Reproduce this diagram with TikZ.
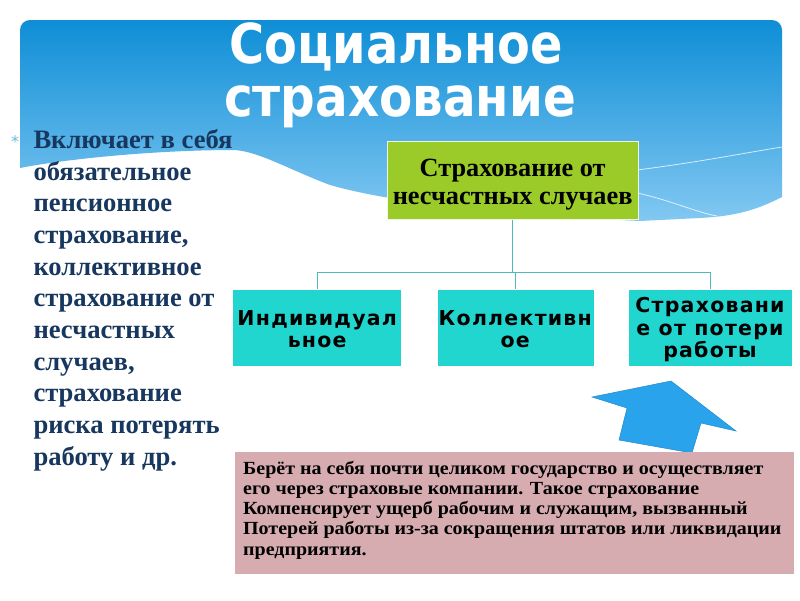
\documentclass[tikz,border=0pt]{standalone}
\usepackage{fontspec}
\usepackage{graphicx}
\setmainfont{Liberation Serif}
\newfontfamily\djs{DejaVu Sans}
\newfontfamily\djsls[LetterSpace=6]{DejaVu Sans}
\definecolor{hdrtop}{RGB}{14,142,214}
\definecolor{hdrbot}{RGB}{130,200,242}
\definecolor{navy}{RGB}{23,55,94}
\definecolor{lime}{RGB}{155,203,40}
\definecolor{turq}{RGB}{34,214,208}
\definecolor{conn}{RGB}{80,185,185}
\definecolor{arrowblue}{RGB}{41,163,236}
\definecolor{pinkbox}{RGB}{214,172,176}
\definecolor{bulletblue}{RGB}{110,185,225}
\newcommand{\ctr}[1]{\hbox to 0pt{\hss#1\hss}}
\tikzset{
  titletext/.style={inner sep=0pt, text=white, font=\djs\bfseries\fontsize{55}{60}\selectfont},
  gbox/.style={fill=lime, draw=white!85!lime, line width=0.8pt, inner sep=0pt},
  tbox/.style={fill=turq, draw=white, line width=0.6pt, inner sep=0pt, minimum height=77.7pt},
  tboxtext/.style={inner sep=0pt, text=black, font=\djsls\bfseries\fontsize{20.5}{22.4}\selectfont},
  conn/.style={draw=conn, line width=1pt},
  pbox/.style={fill=pinkbox, inner sep=0pt},
}
\begin{document}
\begin{tikzpicture}[x=1pt,y=-1pt]
\useasboundingbox (0,0) rectangle (800,600);
\fill[white] (0,0) rectangle (800,600);
% header
\shade[top color=hdrtop, bottom color=hdrbot]
  (20,168) [rounded corners=10pt]-- (20,20) -- (782,20) [sharp corners]-- (782,197)
  .. controls (760,208) and (740,216) .. (700,218) -- (640,221)
  .. controls (520,215) and (400,205) .. (330,185)
  .. controls (290,170) and (260,152) .. (235,150)
  .. controls (150,150) and (60,160) .. (20,168) -- cycle;
\draw[white, opacity=.75, line width=.8pt] (637,170) .. controls (700,162) and (750,152) .. (782,147);
\draw[white, opacity=.75, line width=.8pt] (637,193) .. controls (670,200) and (695,212) .. (717,216);
% title
\node[titletext, anchor=base] (t1) at (396,63.3) {\scalebox{0.87}[1]{Социальное}};
\node[titletext, anchor=base] (t2) at (400,116.7) {\scalebox{0.88}[1]{страхование}};
% bullet and left text
\node[inner sep=0pt, anchor=base, text=bulletblue, font=\djs\fontsize{16}{16}\selectfont] (bul) at (15,147) {*};
\node[inner sep=0pt, anchor=base west, text=navy, font=\bfseries\fontsize{26.6}{31.7}\selectfont] (lt) at (33.3,148.3)
 {\vtop{\hbox{Включает в себя}\hbox{обязательное}\hbox{пенсионное}\hbox{страхование,}\hbox{коллективное}\hbox{страхование от}\hbox{несчастных}\hbox{случаев,}\hbox{страхование}\hbox{риска потерять}\hbox{работу и др.}}};
% green box
\node[gbox, minimum width=250.7pt, minimum height=77.6pt] (ins) at (512.65,180.5) {};
\node[inner sep=0pt, anchor=base, font=\bfseries\fontsize{26.3}{27.3}\selectfont] (inst) at (512.65,176.7)
 {\vtop{\ctr{Страхование от}\ctr{несчастных случаев}}};
% turquoise boxes
\node[tbox, minimum width=169pt] (b1) at (317.2,327.85) {};
\node[tbox, minimum width=156.7pt] (b2) at (515.65,327.85) {};
\node[tbox, minimum width=164.4pt] (b3) at (710.5,327.85) {};
\node[tboxtext, anchor=base] (b1t) at (317.2,325) {\vtop{\ctr{Индивидуал}\ctr{ьное}}};
\node[tboxtext, anchor=base] (b2t) at (515.3,325) {\vtop{\ctr{Коллективн}\ctr{ое}}};
\node[tboxtext, anchor=base] (b3t) at (710,312.7) {\vtop{\ctr{Страховани}\ctr{е от потери}\ctr{работы}}};
% connectors
\coordinate (j) at (512.65,272.3);
\draw[conn] (ins.south) -- (j);
\draw[conn] (b1.north) |- (j) -| (b3.north);
\draw[conn] (b2.north) -- (b2.north |- j);
% arrow
\fill[arrowblue, draw=arrowblue!85!black, line width=0.5pt]
  (592,397) -- (671,381) -- (736,431) -- (701,423) -- (692,453) -- (619,440) -- (627,408) -- cycle;
% pink box
\node[pbox, minimum width=559pt, minimum height=122.3pt] (pk) at (514.5,512.85) {};
\node[inner sep=0pt, anchor=base west, font=\bfseries\fontsize{18.5}{20.2}\selectfont] (pkt) at (243,474.3)
 {\scalebox{1.08}[1]{\vtop{\hbox{Берёт на себя почти целиком государство и осуществляет}\hbox{его через страховые компании. Такое страхование}\hbox{Компенсирует ущерб рабочим и служащим, вызванный}\hbox{Потерей работы из-за сокращения штатов или ликвидации}\hbox{предприятия.}}}};
\end{tikzpicture}
\end{document}
